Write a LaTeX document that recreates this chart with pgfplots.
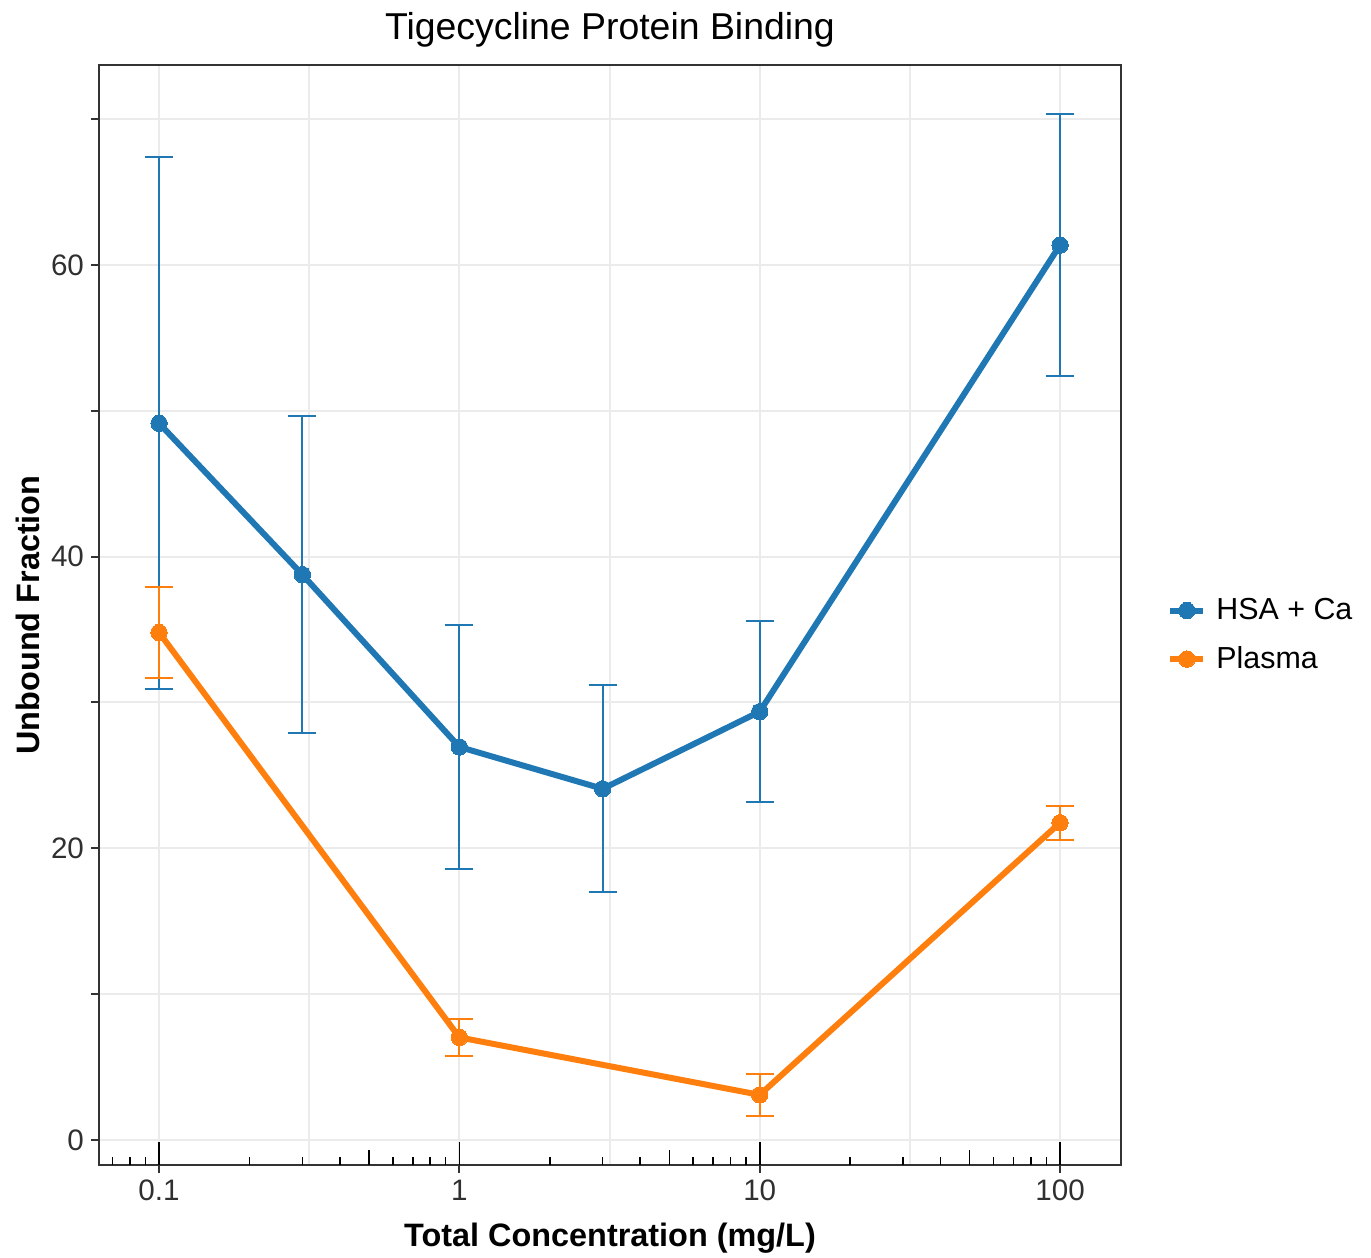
\documentclass[border=0pt]{standalone}
\usepackage{pgfplots}
\usepackage{pgfplotstable}
\pgfplotsset{compat=1.18}
\usepackage{fontspec}
\setmainfont{Liberation Sans}
\definecolor{hsa}{HTML}{1F77B4}
\definecolor{pla}{HTML}{FF7F0E}
\definecolor{gridc}{HTML}{EBEBEB}
\definecolor{bord}{HTML}{333333}
\definecolor{ticklab}{HTML}{303030}

\pgfplotstableread{
x y e
0.1 49.15 18.25
0.3 38.77 10.88
1 26.95 8.35
3 24.08 7.10
10 29.37 6.22
100 61.37 8.99
}\hsatab
\pgfplotstableread{
x y e
0.1 34.80 3.10
1 7.03 1.27
10 3.09 1.44
100 21.75 1.15
}\platab

\begin{document}
\begin{tikzpicture}
\begin{axis}[width=511pt,height=550pt,scale only axis,
  xmode=log,xmin=0.0631,xmax=159.6,ymin=-1.72,ymax=73.72,
  at={(0pt,0pt)},anchor=south west,
  axis line style={draw=bord,line width=1pt},
  xtick={0.1,1,10,100}, xticklabels={0.1,1,10,100},
  minor xtick={0.31623,3.1623,31.623},
  ytick={0,10,20,30,40,50,60,70}, yticklabels={0,,20,,40,,60,},
  tick align=outside, xtick pos=left, ytick pos=left,
  major tick length=4pt, minor tick length=0pt,
  tick style={draw=bord,line width=1pt},
  xmajorgrids, xminorgrids, ymajorgrids,
  major grid style={draw=gridc,line width=1pt},
  minor grid style={draw=gridc,line width=1pt},
  tick label style={font=\fontsize{14.8}{17}\selectfont,text=ticklab},
  title={Tigecycline Protein Binding},
  title style={at={(axis description cs:0.5,1.0123)},anchor=base,font=\fontsize{18.7}{22}\selectfont},
  xlabel={Total Concentration (mg/L)},
  xlabel style={at={(axis description cs:0.5,-0.0745)},anchor=base,font=\bfseries\fontsize{16.2}{19}\selectfont},
  ylabel={Unbound Fraction},
  ylabel style={at={(axis description cs:-0.0587,0.5)},anchor=base,font=\bfseries\fontsize{16.2}{19}\selectfont},
  legend style={draw=none,fill=none,at={(axis description cs:1.045,0.4818)},anchor=west,
    font=\fontsize{15.2}{18}\selectfont,row sep=12pt,inner sep=0pt,
    nodes={inner sep=0pt,text=black},
    /tikz/every odd column/.append style={column sep=5pt}},
  legend cell align=left,
  legend image code/.code={\draw[mark repeat=2,mark phase=2,#1] plot coordinates {(0pt,0pt) (8.25pt,0pt) (16.5pt,0pt)};},
]
\addplot[hsa,line width=3pt,line join=round,mark=*,mark size=4.1pt,mark options={line width=0pt}] table[x=x,y=y]{\hsatab};
\addlegendentry{HSA + Ca}
\addplot[pla,line width=3pt,line join=round,mark=*,mark size=4.1pt,mark options={line width=0pt}] table[x=x,y=y]{\platab};
\addlegendentry{Plasma}
\addplot[forget plot,hsa,only marks,mark=none,
  error bars/.cd,y dir=both,y explicit,error bar style={line width=1pt},
  error mark=|,error mark options={line width=1pt,mark size=7pt}]
  table[x=x,y=y,y error=e]{\hsatab};
\addplot[forget plot,pla,only marks,mark=none,
  error bars/.cd,y dir=both,y explicit,error bar style={line width=1pt},
  error mark=|,error mark options={line width=1pt,mark size=7pt}]
  table[x=x,y=y,y error=e]{\platab};
\end{axis}
\begin{axis}[width=511pt,height=550pt,scale only axis,
  xmode=log,xmin=0.0631,xmax=159.6,ymin=-1.72,ymax=73.72,
  at={(0pt,0pt)},anchor=south west,
  hide y axis,axis line style={draw=none},
  xtick={0.1,1,10,100},xticklabels={},
  minor xtick={0.07,0.08,0.09,0.2,0.3,0.4,0.6,0.7,0.8,0.9,2,3,4,6,7,8,9,20,30,40,60,70,80,90},
  tick align=inside,xtick pos=left,
  major tick length=11.25pt,minor tick length=3.75pt,
  tick style={draw=black,line width=0.8pt}]
\end{axis}
\begin{axis}[width=511pt,height=550pt,scale only axis,
  xmode=log,xmin=0.0631,xmax=159.6,ymin=-1.72,ymax=73.72,
  at={(0pt,0pt)},anchor=south west,
  hide y axis,axis line style={draw=none},
  xtick={0.5,5,50},xticklabels={},
  tick align=inside,xtick pos=left,
  major tick length=7.5pt,minor tick length=0pt,
  tick style={draw=black,line width=0.8pt}]
\end{axis}
\pgfresetboundingbox
\path[use as bounding box] (-49.5pt,-46.5pt) rectangle (636pt,582.5pt);
\end{tikzpicture}
\end{document}
